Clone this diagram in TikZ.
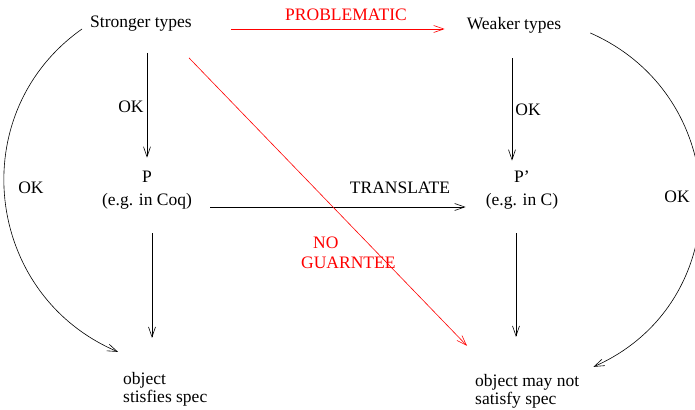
\documentclass[tikz,border=0pt]{standalone}
\usepackage{fontspec}
\setmainfont{Liberation Serif}
\usetikzlibrary{arrows.meta}

\begin{document}
\begin{tikzpicture}[x=1pt,y=-1pt,font=\fontsize{17.5}{18}\selectfont,inner sep=2pt,
    arr/.style={-{Straight Barb[length=10pt,width=7pt]},line width=.6pt},
    bad/.style={arr,color=red}]
\useasboundingbox (0,0) rectangle (695,409);
\clip (0,0) rectangle (695,409);

\node (strong) at (141,24) {Stronger types};
\node (weak) at (514,25) {Weaker types};
\node[align=center] (P) at (147,190) {P\\[5pt](e.g. in Coq)};
\node[align=center] (Pp) at (522,190) {P'\\[5pt](e.g. in C)};
\node[align=left,anchor=west] (objL) at (121,389) {object\\stisfies spec};
\node[align=left,anchor=west] (objR) at (473,391) {object may not\\satisfy spec};

\node[color=red] (probl) at (346,15) {PROBLEMATIC};
\node (transl) at (400,188) {TRANSLATE};
\node (okA) at (131,107) {OK};
\node (okB) at (528,110) {OK};
\node (okL) at (31,188) {OK};
\node (okR) at (677,197) {OK};
\node[color=red,align=left,anchor=west] (noG) at (299,253) {\hspace*{12pt}NO\\[2pt]GUARNTEE};

\draw[arr,shorten <=19pt,shorten >=11pt] (strong.south -| P.north) -- (P.north);
\draw[arr,shorten <=23pt,shorten >=8pt] ([xshift=-2pt]weak.south) -- ([xshift=-2pt]weak.south |- Pp.north);
\draw[arr,shorten <=22pt,shorten >=32pt] ([xshift=5pt]P.south) -- ([xshift=5pt]P.south |- objL.north);
\draw[arr,shorten <=22pt,shorten >=35pt] ([xshift=-6pt]Pp.south) -- ([xshift=-6pt]Pp.south |- objR.north);
\draw[arr,shorten <=16pt,shorten >=18pt] ([yshift=-17pt]P.east) -- ([yshift=-17pt]P.east -| Pp.west);
\draw[bad,shorten <=37pt,shorten >=20pt] ([yshift=-5pt]strong.east) -- ([yshift=-5pt]strong.east -| weak.west);
\draw[bad] ([shift={(-5pt,-24pt)}]strong.south east) -- ([shift={(-6pt,26pt)}]objR.north west);

% the two OK arcs round the sides
\draw[arr] ([shift={(-6pt,-5pt)}]strong.west) .. controls +(-119,84) and +(-134,-57) .. ([shift={(-3pt,18pt)}]objL.north west);
\draw[arr] ([shift={(27pt,-8pt)}]weak.east) .. controls +(145,64) and +(145,-64) .. ([shift={(12pt,5pt)}]objR.north east);

\end{tikzpicture}
\end{document}
